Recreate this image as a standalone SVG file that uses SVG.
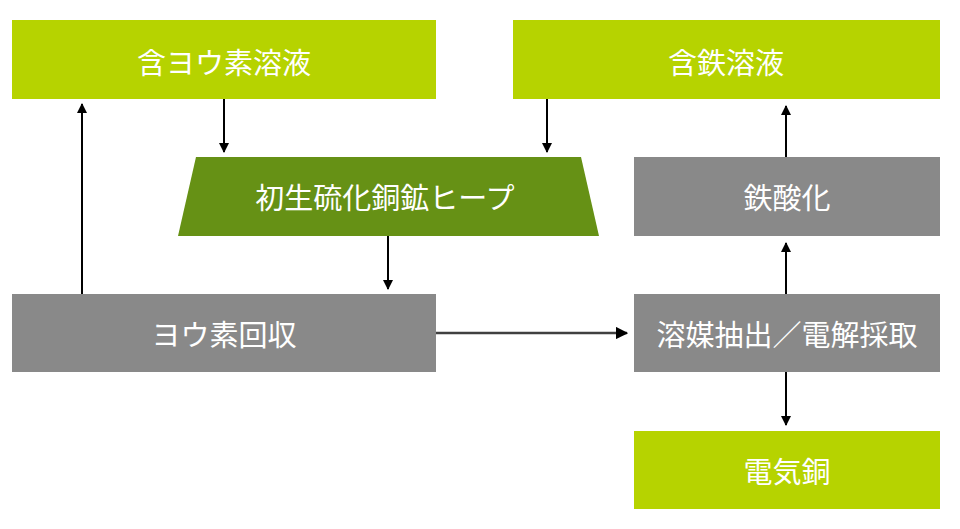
<svg xmlns="http://www.w3.org/2000/svg" width="960" height="529" viewBox="0 0 960 529">
<defs>
<marker id="ah" viewBox="0 0 10 10" refX="9" refY="5" markerWidth="5" markerHeight="5" orient="auto" markerUnits="strokeWidth">
<path d="M0,0 L10,5 L0,10 z" fill="#000"/>
</marker>
<style>
.lime{fill:#b6d300}
.olive{fill:#669115}
.gray{fill:#898989}
.t{fill:#fff;font-family:"Noto Sans CJK JP","Noto Sans CJK SC",sans-serif;font-size:29px;text-anchor:middle;dominant-baseline:central}
.c{stroke:#000;stroke-width:2;fill:none;marker-end:url(#ah)}
</style>
</defs>
<rect width="960" height="529" fill="#fff"/>
<g id="connectors">
<line class="c" x1="82" y1="294" x2="82" y2="104"/>
<line class="c" x1="224" y1="99" x2="224" y2="152"/>
<line class="c" x1="547" y1="99" x2="547" y2="152"/>
<line class="c" x1="388" y1="236" x2="388" y2="289"/>
<line class="c" x1="436" y1="333" x2="627" y2="333" style="stroke:#404040;stroke-width:2.5"/>
<line class="c" x1="786" y1="157" x2="786" y2="106"/>
<line class="c" x1="786" y1="294" x2="786" y2="243"/>
<line class="c" x1="786" y1="372" x2="786" y2="425"/>
</g>
<g id="iodine-solution"><rect class="lime" x="12" y="20" width="424" height="79"/><text class="t" x="224" y="61">含ヨウ素溶液</text></g>
<g id="iron-solution"><rect class="lime" x="513" y="20" width="427" height="79"/><text class="t" x="726" y="61">含鉄溶液</text></g>
<g id="heap"><polygon class="olive" points="196,157 581,157 599,236 178,236"/><text class="t" x="385" y="196">初生硫化銅鉱ヒープ</text></g>
<g id="iron-oxidation"><rect class="gray" x="634" y="157" width="306" height="79"/><text class="t" x="787" y="196">鉄酸化</text></g>
<g id="iodine-recovery"><rect class="gray" x="12" y="294" width="424" height="78"/><text class="t" x="224" y="333">ヨウ素回収</text></g>
<g id="sx-ew"><rect class="gray" x="634" y="294" width="306" height="78"/><text class="t" x="787" y="333">溶媒抽出／電解採取</text></g>
<g id="cathode-copper"><rect class="lime" x="634" y="431" width="306" height="78"/><text class="t" x="787" y="470">電気銅</text></g>
</svg>
